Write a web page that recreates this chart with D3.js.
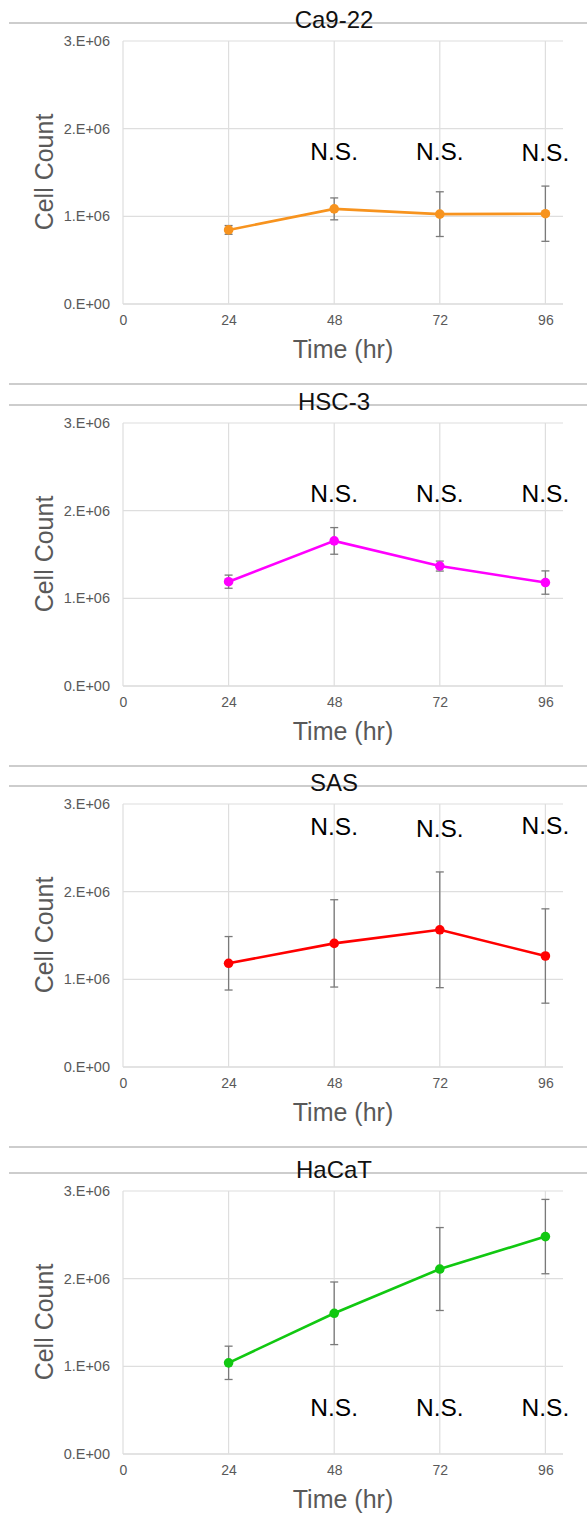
<!DOCTYPE html>
<html>
<head>
<meta charset="utf-8">
<script src="https://cdn.jsdelivr.net/npm/d3@7"></script>
<style>
  body { margin: 0; background: #fff; }
  svg { display: block; font-family: "Liberation Sans", Arial, sans-serif; }
</style>
</head>
<body>
<div id="chart"></div>
<script>
// hours after seeding
let times = [24, 48, 72, 96];
let xTicks = [0, 24, 48, 72, 96];
let yTicks = [0, 1e6, 2e6, 3e6];

let cellLines = ["Ca9-22", "HSC-3", "SAS", "HaCaT"];

// mean cell counts and error bar (+/-) per time point
let ca922Mean = [0.845e6, 1.085e6, 1.025e6, 1.03e6];
let ca922Err  = [0.05e6, 0.125e6, 0.255e6, 0.315e6];
let hsc3Mean  = [1.19e6, 1.655e6, 1.368e6, 1.18e6];
let hsc3Err   = [0.075e6, 0.152e6, 0.057e6, 0.133e6];
let sasMean   = [1.183e6, 1.41e6, 1.565e6, 1.266e6];
let sasErr    = [0.305e6, 0.498e6, 0.66e6, 0.538e6];
let hacatMean = [1.04e6, 1.605e6, 2.11e6, 2.48e6];
let hacatErr  = [0.19e6, 0.357e6, 0.473e6, 0.424e6];

// "N.S." marks at 48/72/96 h, and the height they sit at (in cell counts)
let nsTimes = [48, 72, 96];
let nsText = "N.S.";
let ca922NsAt = [1.64e6, 1.64e6, 1.635e6];
let hsc3NsAt  = [2.1e6, 2.1e6, 2.1e6];
let sasNsAt   = [2.65e6, 2.625e6, 2.66e6];
let hacatNsAt = [0.435e6, 0.435e6, 0.435e6];

let panels = [
    {name: cellLines[0], mean: ca922Mean, err: ca922Err, ns: ca922NsAt, color: "#f7931e"},
    {name: cellLines[1], mean: hsc3Mean, err: hsc3Err, ns: hsc3NsAt, color: "#ff00ff"},
    {name: cellLines[2], mean: sasMean, err: sasErr, ns: sasNsAt, color: "#ff0000"},
    {name: cellLines[3], mean: hacatMean, err: hacatErr, ns: hacatNsAt, color: "#11c811"}
];

let width = 587;
let height = 1528;
let panelTops = [0, 382, 763, 1150];
let plotLeft = 123, plotRight = 563;
let gray = "#595959";

let svg = d3.select("#chart")
    .append("svg")
    .attr("width", width)
    .attr("height", height);

let xScale = d3.scaleLinear()
    .domain([0, 100])
    .range([plotLeft, plotRight]);

function fmtY(d) {
    if (d === 0) return "0.E+00";
    return (d / 1e6) + ".E+06";
}

panels.forEach(function(p, i) {
    let top = panelTops[i];
    let yScale = d3.scaleLinear()
        .domain([0, 3e6])
        .range([top + 304, top + 41]);

    let g = svg.append("g");

    // separator under the previous panel + line through the title
    if (i < panels.length - 1) {
        g.append("line")
            .attr("x1", 9).attr("x2", width)
            .attr("y1", top + 384).attr("y2", top + 384)
            .attr("stroke", "#bdbdbd").attr("stroke-width", 1.3);
    }
    g.append("line")
        .attr("x1", 9).attr("x2", width)
        .attr("y1", top + 23).attr("y2", top + 23)
        .attr("stroke", "#bdbdbd").attr("stroke-width", 1.3);

    // gridlines
    g.selectAll(".hgrid")
        .data(yTicks)
        .enter()
        .append("line")
        .attr("x1", plotLeft).attr("x2", plotRight)
        .attr("y1", function(d) { return yScale(d); })
        .attr("y2", function(d) { return yScale(d); })
        .attr("stroke", function(d) { return d === 0 ? "#c8c8c8" : "#dedede"; })
        .attr("stroke-width", 1.2);

    g.selectAll(".vgrid")
        .data(xTicks)
        .enter()
        .append("line")
        .attr("x1", function(d) { return xScale(d); })
        .attr("x2", function(d) { return xScale(d); })
        .attr("y1", yScale(3e6)).attr("y2", yScale(0))
        .attr("stroke", "#dedede")
        .attr("stroke-width", 1.2);

    // axes (labels only)
    let yAxis = d3.axisLeft(yScale).tickValues(yTicks).tickFormat(fmtY).tickSize(0).tickPadding(13);
    let ya = g.append("g")
        .attr("transform", "translate(" + plotLeft + ",0)")
        .call(yAxis);
    ya.select(".domain").remove();
    ya.selectAll("text")
        .attr("fill", gray)
        .style("font-size", "14.5px")
        .style("font-family", "'Liberation Sans', Arial, sans-serif");

    let xAxis = d3.axisBottom(xScale).tickValues(xTicks).tickSize(0).tickPadding(11);
    let xa = g.append("g")
        .attr("transform", "translate(0," + yScale(0) + ")")
        .call(xAxis);
    xa.select(".domain").remove();
    xa.selectAll("text")
        .attr("fill", gray)
        .style("font-size", "14px")
        .style("font-family", "'Liberation Sans', Arial, sans-serif");

    // axis titles
    g.append("text")
        .attr("transform", "translate(53," + (top + 172) + ") rotate(-90)")
        .attr("text-anchor", "middle")
        .attr("fill", gray)
        .style("font-size", "25px")
        .text("Cell Count");

    g.append("text")
        .attr("x", (plotLeft + plotRight) / 2)
        .attr("y", top + 358)
        .attr("text-anchor", "middle")
        .attr("fill", gray)
        .style("font-size", "25px")
        .text("Time (hr)");

    // panel title
    g.append("text")
        .attr("x", 334)
        .attr("y", top + 28)
        .attr("text-anchor", "middle")
        .attr("fill", "#111")
        .style("font-size", "24px")
        .text(p.name);

    // error bars
    let data = times.map(function(t, k) { return {t: t, m: p.mean[k], e: p.err[k]}; });
    let eb = g.selectAll(".err").data(data).enter().append("g");
    eb.append("line")
        .attr("x1", function(d) { return xScale(d.t); })
        .attr("x2", function(d) { return xScale(d.t); })
        .attr("y1", function(d) { return yScale(d.m - d.e); })
        .attr("y2", function(d) { return yScale(d.m + d.e); })
        .attr("stroke", "#7a7a7a").attr("stroke-width", 1.3);
    [-1, 1].forEach(function(s) {
        eb.append("line")
            .attr("x1", function(d) { return xScale(d.t) - 4; })
            .attr("x2", function(d) { return xScale(d.t) + 4; })
            .attr("y1", function(d) { return yScale(d.m + s * d.e); })
            .attr("y2", function(d) { return yScale(d.m + s * d.e); })
            .attr("stroke", "#7a7a7a").attr("stroke-width", 1.3);
    });

    // series line + markers
    let line = d3.line()
        .x(function(d) { return xScale(d.t); })
        .y(function(d) { return yScale(d.m); });
    g.append("path")
        .datum(data)
        .attr("d", line)
        .attr("fill", "none")
        .attr("stroke", p.color)
        .attr("stroke-width", 2.6);
    g.selectAll(".pt")
        .data(data)
        .enter()
        .append("circle")
        .attr("cx", function(d) { return xScale(d.t); })
        .attr("cy", function(d) { return yScale(d.m); })
        .attr("r", 4.8)
        .attr("fill", p.color);

    // N.S. marks
    g.selectAll(".ns")
        .data(nsTimes)
        .enter()
        .append("text")
        .attr("x", function(d) { return xScale(d); })
        .attr("y", function(d, k) { return yScale(p.ns[k]); })
        .attr("text-anchor", "middle")
        .attr("fill", "#000")
        .style("font-size", "24.5px")
        .text(nsText);
});
</script>
</body>
</html>
